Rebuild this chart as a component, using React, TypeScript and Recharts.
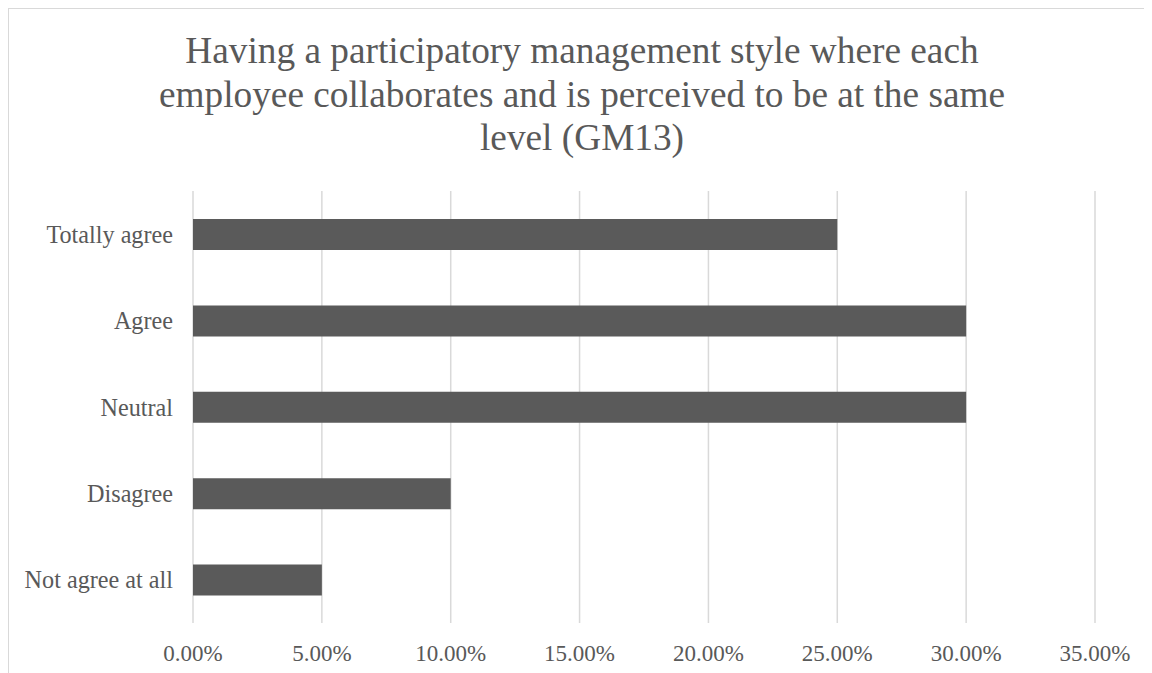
import React from 'react';
import { BarChart, Bar, XAxis, YAxis, CartesianGrid } from 'recharts';

const categories = ['Totally agree', 'Agree', 'Neutral', 'Disagree', 'Not agree at all'];
const shares = [0.25, 0.3, 0.3, 0.1, 0.05];
const xTicks = [0, 0.05, 0.1, 0.15, 0.2, 0.25, 0.3, 0.35];
const titleLines = [
    'Having a participatory management style where each',
    'employee collaborates and is perceived to be at the same',
    'level (GM13)',
];

const data = categories.map((name, i) => ({ name, value: shares[i] }));

const FONT = '"Liberation Serif", "Times New Roman", serif';
const TEXT = '#595959';

const App: React.FC = () => {
    return (
        <div
            style={{
                position: 'relative',
                width: 1143,
                height: 664,
                borderTop: '1px solid #d9d9d9',
                borderLeft: '1px solid #d9d9d9',
                fontFamily: FONT,
            }}
        >
            <div
                style={{
                    position: 'absolute',
                    left: 0,
                    top: 20,
                    width: 1146,
                    textAlign: 'center',
                    fontSize: 37.3,
                    lineHeight: '43.5px',
                    color: TEXT,
                }}
            >
                {titleLines.map(line => (
                    <div key={line}>{line}</div>
                ))}
            </div>
            <BarChart
                width={1143}
                height={664}
                data={data}
                layout="vertical"
                margin={{ top: 182, right: 57, bottom: 20, left: 0 }}
                barCategoryGap={0}
            >
                <CartesianGrid horizontal={false} stroke="#d9d9d9" strokeWidth={1.5} />
                <XAxis
                    type="number"
                    domain={[0, 0.35]}
                    ticks={xTicks}
                    tickFormatter={(v: number) => (v * 100).toFixed(2) + '%'}
                    axisLine={false}
                    tickLine={false}
                    tickMargin={16}
                    height={30}
                    tick={{ fill: TEXT, fontSize: 23, fontFamily: FONT }}
                />
                <YAxis
                    type="category"
                    dataKey="name"
                    width={184}
                    axisLine={false}
                    tickLine={false}
                    tickMargin={14}
                    tick={{ fill: TEXT, fontSize: 24.2, fontFamily: FONT }}
                />
                <Bar dataKey="value" fill="#5a5a5a" barSize={31} isAnimationActive={false} />
            </BarChart>
        </div>
    );
};

export default App;
